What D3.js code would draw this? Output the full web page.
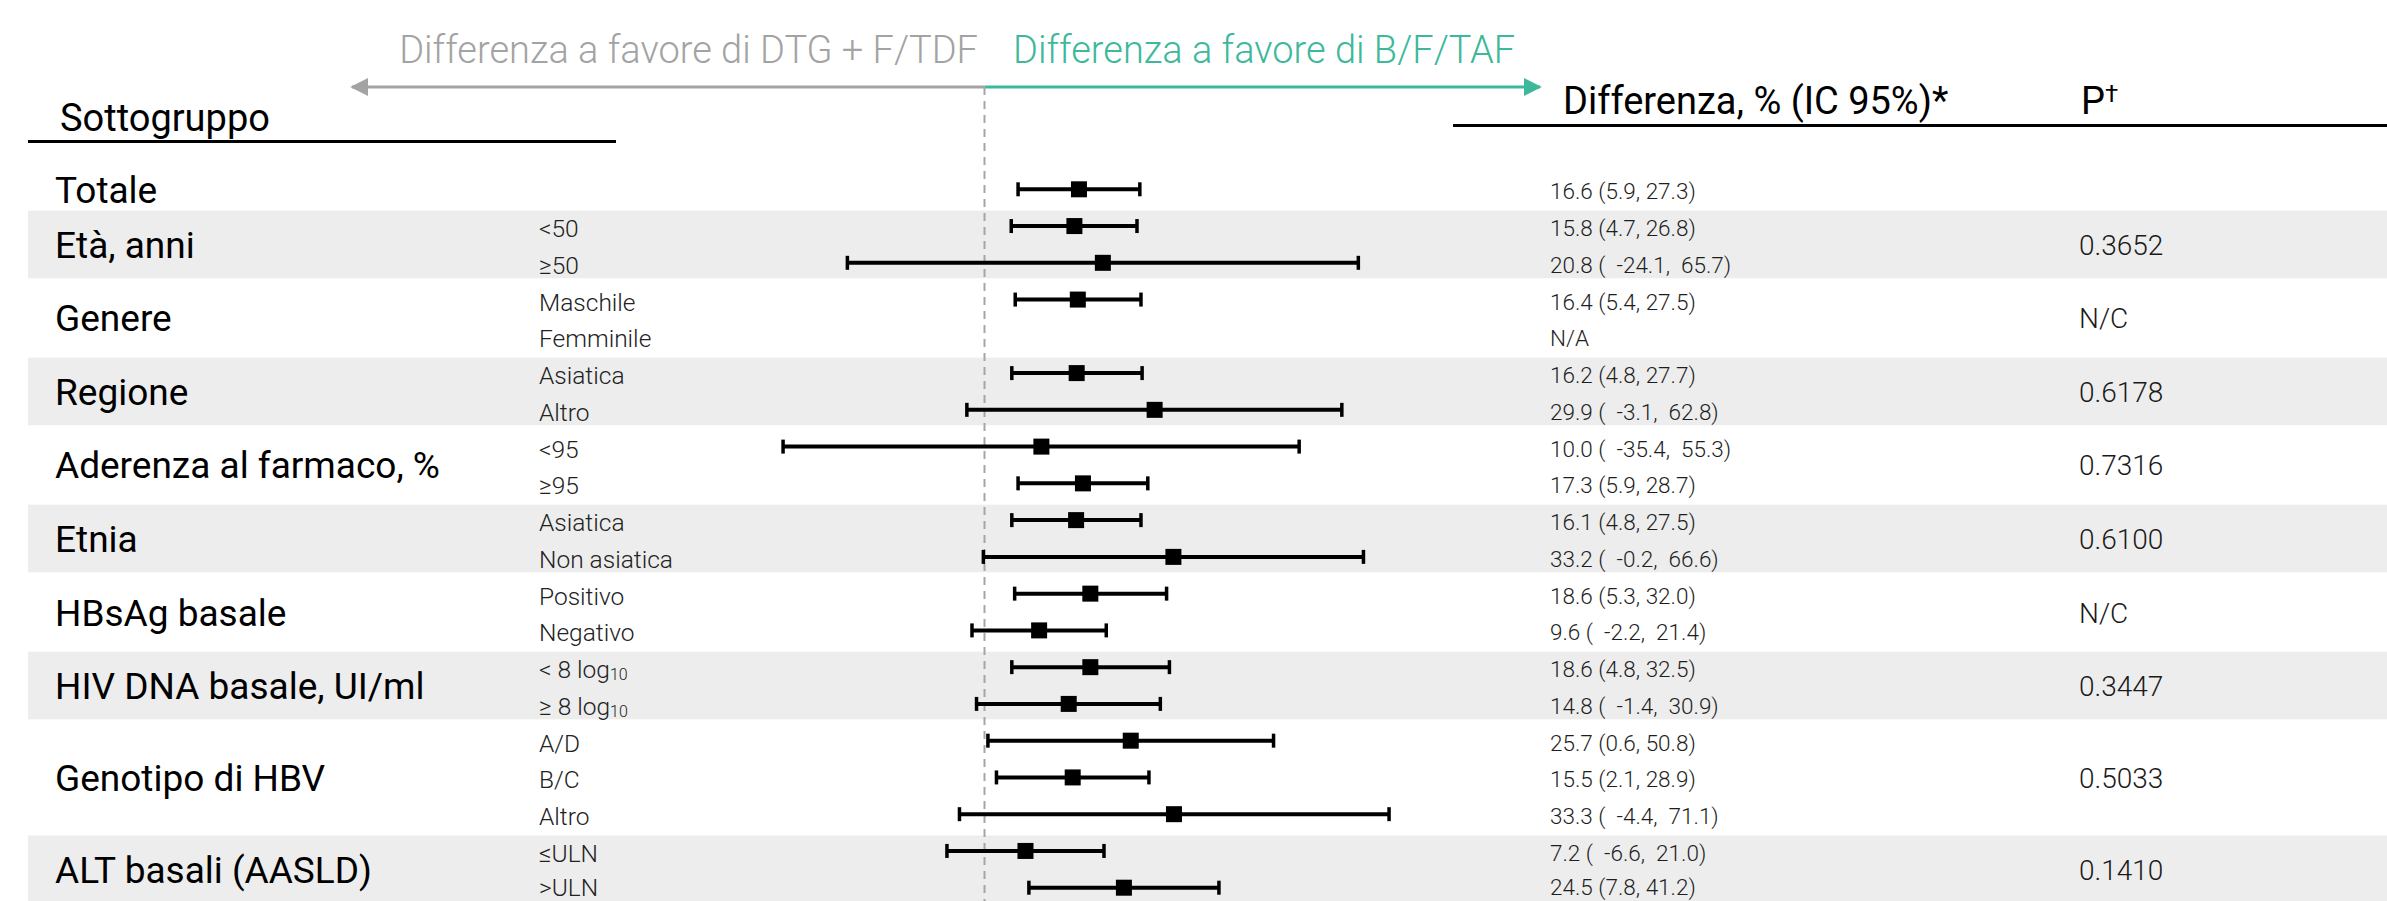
<!DOCTYPE html>
<html>
<head>
<meta charset="utf-8">
<script src="https://cdn.jsdelivr.net/npm/d3@7/dist/d3.min.js"></script>
<style>
  html, body { margin: 0; padding: 0; background: #fff; }
  svg { display: block; }
  .pre { white-space: pre; }
</style>
</head>
<body>
<svg id="chart" width="2387" height="901"></svg>
<script>
// Subgroup forest plot: difference (%) with 95% CI, B/F/TAF vs DTG + F/TDF

const groupNames = [
  "Totale", "Età, anni", "Genere", "Regione", "Aderenza al farmaco, %",
  "Etnia", "HBsAg basale", "HIV DNA basale, UI/ml", "Genotipo di HBV", "ALT basali (AASLD)"
];
const groupPValues = ["", "0.3652", "N/C", "0.6178", "0.7316", "0.6100", "N/C", "0.3447", "0.5033", "0.1410"];
const shadedGroups = [1, 3, 5, 7, 9];

const subgroupLabels = [
  "", "<50", "≥50", "Maschile", "Femminile", "Asiatica", "Altro", "<95", "≥95",
  "Asiatica", "Non asiatica", "Positivo", "Negativo", "< 8 log", "≥ 8 log",
  "A/D", "B/C", "Altro", "≤ULN", ">ULN"
];
const subgroupSubscripts = [
  "", "", "", "", "", "", "", "", "", "", "", "", "", "10", "10", "", "", "", "", ""
];
const subgroupGroup = [0, 1, 1, 2, 2, 3, 3, 4, 4, 5, 5, 6, 6, 7, 7, 8, 8, 8, 9, 9];

const estimates = [16.6, 15.8, 20.8, 16.4, null, 16.2, 29.9, 10.0, 17.3, 16.1, 33.2, 18.6, 9.6, 18.6, 14.8, 25.7, 15.5, 33.3, 7.2, 24.5];
const lowerCI   = [5.9, 4.7, -24.1, 5.4, null, 4.8, -3.1, -35.4, 5.9, 4.8, -0.2, 5.3, -2.2, 4.8, -1.4, 0.6, 2.1, -4.4, -6.6, 7.8];
const upperCI   = [27.3, 26.8, 65.7, 27.5, null, 27.7, 62.8, 55.3, 28.7, 27.5, 66.6, 32.0, 21.4, 32.5, 30.9, 50.8, 28.9, 71.1, 21.0, 41.2];

const headerSubgroup = "Sottogruppo";
const headerDiff = "Differenza, % (IC 95%)*";
const headerP = "P";
const headerPMark = "†";
const favourLeft = "Differenza a favore di DTG + F/TDF";
const favourRight = "Differenza a favore di B/F/TAF";

// ---- layout ----
const W = 2387, H = 901;
const zeroX = 984.5, pxPerPoint = 5.69;
const x = d3.scaleLinear()
  .domain([-40, 80])
  .range([zeroX - 40 * pxPerPoint, zeroX + 80 * pxPerPoint]);
const y = d3.scaleLinear()
  .domain([0, subgroupLabels.length - 1])
  .range([189.3, 887.7]);

const colGroupX = 55, colSubX = 539, colValX = 1550, colPX = 2079;
const arrowY = 87;
const grey = "#a3a3a3", green = "#3db89b";
const band = "#ededed";
const headFont = "Roboto, 'Liberation Sans', Arial, sans-serif";
// keep small row texts inside the bottom edge
const textY = i => Math.min(y(i) + 2, H - 14);

const svg = d3.select("#chart");
svg.append("rect").attr("width", W).attr("height", H).attr("fill", "#fff");

const fmt = v => v.toFixed(1);
const rows = subgroupLabels.map((lab, i) => ({
  i, label: lab, sub: subgroupSubscripts[i], group: subgroupGroup[i],
  est: estimates[i], lo: lowerCI[i], hi: upperCI[i]
}));
const groups = groupNames.map((name, g) => {
  const idx = rows.filter(r => r.group === g).map(r => r.i);
  return { name, g, first: d3.min(idx), last: d3.max(idx), p: groupPValues[g] };
});

// shaded bands for alternating groups
svg.append("g").selectAll("rect")
  .data(groups.filter(d => shadedGroups.includes(d.g)))
  .join("rect")
  .attr("x", 28)
  .attr("width", W - 28)
  .attr("y", d => y(d.first - 0.42))
  .attr("height", d => y(d.last + 0.42) - y(d.first - 0.42))
  .attr("fill", band);

// header texts
svg.append("text")
  .attr("x", colGroupX + 5).attr("y", 131)
  .attr("font-family", headFont).attr("font-size", 38).attr("fill", "#000")
  .text(headerSubgroup);
svg.append("line")
  .attr("x1", 28).attr("x2", 616).attr("y1", 141.5).attr("y2", 141.5)
  .attr("stroke", "#000").attr("stroke-width", 3);

svg.append("text")
  .attr("x", 1563).attr("y", 114)
  .attr("font-family", headFont).attr("font-size", 38).attr("fill", "#000")
  .text(headerDiff);
const pHead = svg.append("text")
  .attr("x", colPX + 2).attr("y", 114)
  .attr("font-family", headFont).attr("font-size", 38).attr("fill", "#000");
pHead.append("tspan").text(headerP);
pHead.append("tspan").attr("font-size", 24).attr("dy", -12).text(headerPMark);
svg.append("line")
  .attr("x1", 1453).attr("x2", W).attr("y1", 125.5).attr("y2", 125.5)
  .attr("stroke", "#000").attr("stroke-width", 3);

// favour arrows
const defs = svg.append("defs");
[["arrGrey", grey], ["arrGreen", green]].forEach(([id, c]) => {
  defs.append("marker")
    .attr("id", id).attr("viewBox", "0 0 10 10")
    .attr("refX", 9).attr("refY", 5)
    .attr("markerWidth", 6).attr("markerHeight", 6)
    .attr("markerUnits", "strokeWidth")
    .attr("orient", "auto")
    .append("path").attr("d", "M0,0 L10,5 L0,10 Z").attr("fill", c);
});
svg.append("line")
  .attr("x1", x(0)).attr("x2", 352).attr("y1", arrowY).attr("y2", arrowY)
  .attr("stroke", grey).attr("stroke-width", 3)
  .attr("marker-end", "url(#arrGrey)");
svg.append("line")
  .attr("x1", x(0)).attr("x2", 1540).attr("y1", arrowY).attr("y2", arrowY)
  .attr("stroke", green).attr("stroke-width", 3)
  .attr("marker-end", "url(#arrGreen)");
svg.append("text")
  .attr("x", 978).attr("y", 63).attr("text-anchor", "end")
  .attr("font-family", headFont).attr("font-weight", 300)
  .attr("font-size", 38).attr("fill", grey)
  .text(favourLeft);
svg.append("text")
  .attr("x", 1013).attr("y", 63)
  .attr("font-family", headFont).attr("font-weight", 300)
  .attr("font-size", 38).attr("fill", green)
  .text(favourRight);

// zero reference line
svg.append("line")
  .attr("x1", x(0)).attr("x2", x(0)).attr("y1", arrowY).attr("y2", H)
  .attr("stroke", "#a5a5a5").attr("stroke-width", 2)
  .attr("stroke-dasharray", "8,6");

// group labels and P values
const gl = svg.append("g");
gl.selectAll("text.group")
  .data(groups).join("text").attr("class", "group")
  .attr("x", colGroupX)
  .attr("y", d => (y(d.first) + y(d.last)) / 2 + 1)
  .attr("dominant-baseline", "central")
  .attr("font-family", headFont).attr("font-size", 37).attr("fill", "#000")
  .text(d => d.name);
gl.selectAll("text.pval")
  .data(groups).join("text").attr("class", "pval")
  .attr("x", colPX)
  .attr("y", d => (y(d.first) + y(d.last)) / 2 + 1)
  .attr("dominant-baseline", "central")
  .attr("font-family", headFont).attr("font-weight", 300)
  .attr("font-size", 28).attr("fill", "#1a1a1a")
  .text(d => d.p);

// subgroup labels
const sl = svg.append("g").selectAll("text")
  .data(rows.filter(r => r.label)).join("text")
  .attr("x", colSubX)
  .attr("y", d => textY(d.i))
  .attr("dominant-baseline", "central")
  .attr("font-family", headFont).attr("font-weight", 300)
  .attr("font-size", 24.5).attr("fill", "#222");
sl.append("tspan").text(d => d.label);
sl.filter(d => d.sub).append("tspan")
  .attr("font-size", 16).attr("dy", 5)
  .text(d => d.sub);

// value texts (intervals with a negative bound are padded)
svg.append("g").selectAll("text")
  .data(rows).join("text")
  .attr("class", "pre")
  .attr("x", colValX)
  .attr("y", d => textY(d.i))
  .attr("dominant-baseline", "central")
  .attr("font-family", headFont).attr("font-weight", 300)
  .attr("font-size", 22.5).attr("fill", "#1e1e1e")
  .text(d => {
    if (d.est == null) return "N/A";
    const pad = d.lo < 0 ? "  " : "";
    return `${fmt(d.est)} (${pad}${fmt(d.lo)}, ${d.lo < 0 ? " " : ""}${fmt(d.hi)})`;
  });

// confidence intervals and point estimates
const marks = svg.append("g").selectAll("g")
  .data(rows.filter(r => r.est != null)).join("g");
marks.append("line")
  .attr("x1", d => x(d.lo)).attr("x2", d => x(d.hi))
  .attr("y1", d => y(d.i)).attr("y2", d => y(d.i))
  .attr("stroke", "#000").attr("stroke-width", 4);
["lo", "hi"].forEach(k => {
  marks.append("line")
    .attr("x1", d => x(d[k])).attr("x2", d => x(d[k]))
    .attr("y1", d => y(d.i) - 7).attr("y2", d => y(d.i) + 7)
    .attr("stroke", "#000").attr("stroke-width", 3.5);
});
marks.append("rect")
  .attr("x", d => x(d.est) - 8).attr("y", d => y(d.i) - 8)
  .attr("width", 16).attr("height", 16)
  .attr("fill", "#000");
</script>
</body>
</html>
